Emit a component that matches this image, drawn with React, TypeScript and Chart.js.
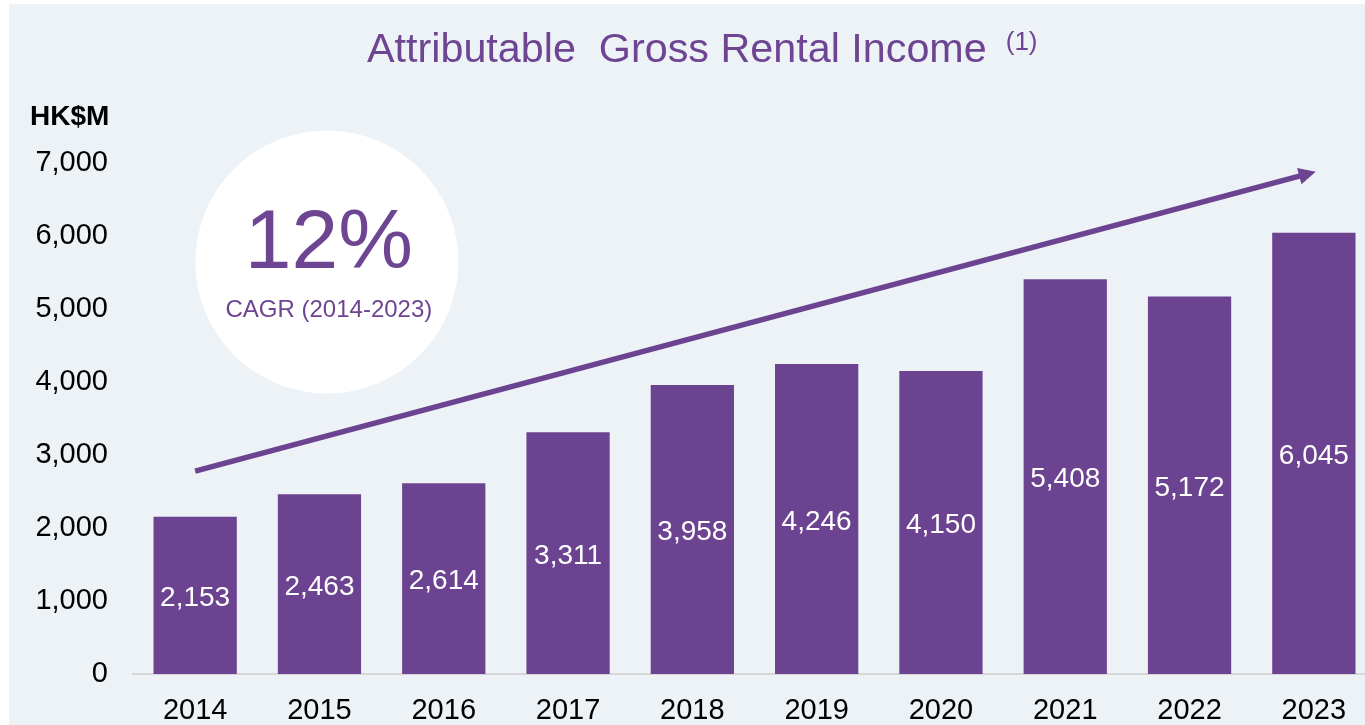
import { useEffect, useRef } from "react";
import { Chart, registerables } from "chart.js";

Chart.register(...registerables);

const categories = ["2014", "2015", "2016", "2017", "2018", "2019", "2020", "2021", "2022", "2023"];
const rentalIncome = [2153, 2463, 2614, 3311, 3958, 4246, 4150, 5408, 5172, 6045];
const yTickValues = [0, 1000, 2000, 3000, 4000, 5000, 6000, 7000];
const titleText = "Attributable  Gross Rental Income";
const titleNote = "(1)";
const unitLabel = "HK$M";
// Trend arrow endpoints in data units: [category index, value]
const arrowStart = [0, 2780];
const arrowEnd = [9.015, 6880];
// CAGR badge centre in data units: [category index, value]
const badgeCentre = [1.06, 5645];
const badgeBig = "12%";
const badgeSmall = "CAGR (2014-2023)";

const PURPLE = "#6C4390";
const TEXT_PURPLE = "#6E4592";
const BG = "#EDF2F7";
const FONT = "'Liberation Sans', Arial, sans-serif";

const fmt = (v: number) => v.toLocaleString("en-US");

const barLabels = {
  id: "barLabels",
  afterDatasetsDraw(chart: any) {
    const { ctx } = chart;
    const meta = chart.getDatasetMeta(0);
    ctx.save();
    ctx.fillStyle = "#FFFFFF";
    ctx.font = `28px ${FONT}`;
    ctx.textAlign = "center";
    ctx.textBaseline = "middle";
    meta.data.forEach((el: any, i: number) => {
      const v = chart.data.datasets[0].data[i] as number;
      ctx.fillText(fmt(v), el.x, (el.y + el.base) / 2 + 3);
    });
    ctx.restore();
  },
};

const overlay = {
  id: "overlay",
  afterDraw(chart: any) {
    const { ctx } = chart;
    const x = chart.scales.x;
    const y = chart.scales.y;
    ctx.save();

    // Title
    ctx.fillStyle = TEXT_PURPLE;
    ctx.textBaseline = "alphabetic";
    ctx.textAlign = "left";
    ctx.font = `41.3px ${FONT}`;
    const tx = 358;
    ctx.fillText(titleText, tx, 58);
    const tw = ctx.measureText(titleText).width;
    ctx.font = `26px ${FONT}`;
    ctx.fillText(titleNote, tx + tw + 19, 46);

    // Unit label
    ctx.fillStyle = "#000000";
    ctx.font = `bold 28px ${FONT}`;
    ctx.textBaseline = "middle";
    ctx.fillText(unitLabel, 21, 113);

    // Badge circle
    const cx = x.getPixelForValue(badgeCentre[0]);
    const cy = y.getPixelForValue(badgeCentre[1]);
    ctx.beginPath();
    ctx.arc(cx, cy, 131.5, 0, Math.PI * 2);
    ctx.fillStyle = "#FFFFFF";
    ctx.fill();
    ctx.fillStyle = TEXT_PURPLE;
    ctx.textAlign = "center";
    ctx.textBaseline = "alphabetic";
    ctx.font = `84px ${FONT}`;
    ctx.fillText(badgeBig, cx + 2, cy + 6);
    ctx.font = `24px ${FONT}`;
    ctx.fillText(badgeSmall, cx + 2, cy + 55);

    // Trend arrow
    const x1 = x.getPixelForValue(arrowStart[0]);
    const y1 = y.getPixelForValue(arrowStart[1]);
    const x2 = x.getPixelForValue(arrowEnd[0]);
    const y2 = y.getPixelForValue(arrowEnd[1]);
    const ang = Math.atan2(y2 - y1, x2 - x1);
    const headLen = 17;
    const headHalf = 8.5;
    const bx = x2 - headLen * Math.cos(ang);
    const by = y2 - headLen * Math.sin(ang);
    ctx.strokeStyle = PURPLE;
    ctx.lineWidth = 5.5;
    ctx.lineCap = "butt";
    ctx.beginPath();
    ctx.moveTo(x1, y1);
    ctx.lineTo(bx + 1 * Math.cos(ang), by + 1 * Math.sin(ang));
    ctx.stroke();
    ctx.fillStyle = PURPLE;
    ctx.beginPath();
    ctx.moveTo(x2, y2);
    ctx.lineTo(bx + headHalf * Math.sin(ang), by - headHalf * Math.cos(ang));
    ctx.lineTo(bx - headHalf * Math.sin(ang), by + headHalf * Math.cos(ang));
    ctx.closePath();
    ctx.fill();

    ctx.restore();
  },
};

export default function App() {
  const ref = useRef<HTMLCanvasElement | null>(null);

  useEffect(() => {
    if (!ref.current) return;
    const chart = new Chart(ref.current, {
      type: "bar",
      data: {
        labels: categories,
        datasets: [
          {
            data: rentalIncome,
            backgroundColor: PURPLE,
            borderWidth: 0,
            categoryPercentage: 1,
            barPercentage: 0.67,
          },
        ],
      },
      options: {
        responsive: false,
        animation: false,
        layout: { padding: { top: 159, right: 5, bottom: 0, left: 0 } },
        plugins: {
          legend: { display: false },
          tooltip: { enabled: false },
          title: { display: false },
        },
        scales: {
          x: {
            grid: { display: false, drawTicks: false },
            border: { display: true, color: "#D6D6D6", width: 2 },
            ticks: {
              color: "#000000",
              font: { family: FONT, size: 29 },
              padding: 20,
              maxRotation: 0,
              autoSkip: false,
            },
            afterFit: (s: any) => {
              s.height = 51;
            },
          },
          y: {
            min: 0,
            max: 7000,
            afterBuildTicks: (s: any) => {
              s.ticks = yTickValues.map((v) => ({ value: v }));
            },
            grid: { display: false, drawTicks: false },
            border: { display: false },
            ticks: {
              color: "#000000",
              font: { family: FONT, size: 29 },
              padding: 25,
              callback: (v: any) => fmt(Number(v)),
            },
            afterFit: (s: any) => {
              s.width = 124;
            },
          },
        },
      },
      plugins: [barLabels, overlay],
    });
    return () => chart.destroy();
  }, []);

  return (
    <div
      style={{
        position: "fixed",
        left: 9,
        top: 4,
        width: 1356,
        height: 721,
        overflow: "hidden",
        background: BG,
      }}
    >
      <canvas ref={ref} width={1372} height={721} style={{ display: "block" }} />
    </div>
  );
}
